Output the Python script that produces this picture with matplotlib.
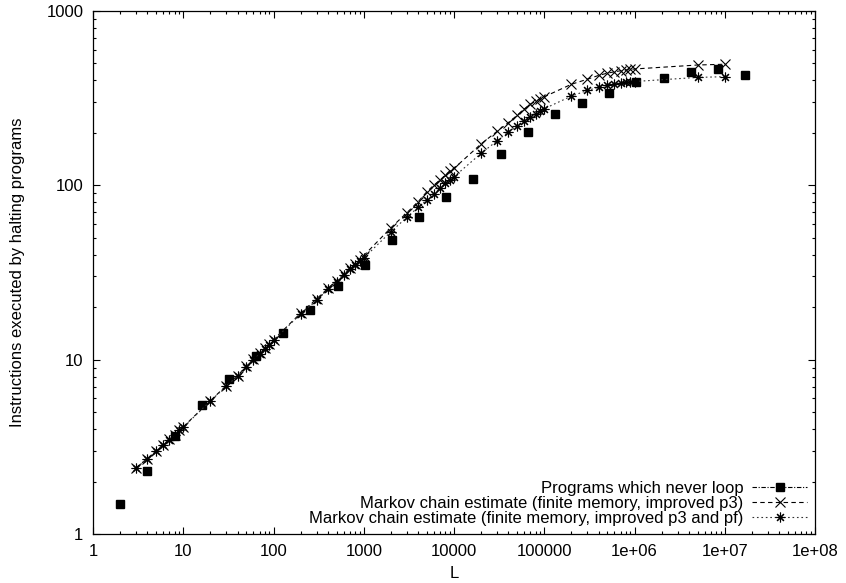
import matplotlib
matplotlib.use("Agg")
import matplotlib.pyplot as plt
from matplotlib.lines import Line2D
from matplotlib.ticker import FixedLocator, LogLocator, NullFormatter

plt.rcParams["font.family"] = ["Liberation Sans", "DejaVu Sans"]

# ---------- data ----------
# programs which never loop: sampled at powers of two
L_loop = [2, 4, 8, 16, 32, 64, 128, 256, 512, 1024, 2048, 4096, 8192, 16384,
          32768, 65536, 131072, 262144, 524288, 1048576, 2097152, 4194304,
          8388608, 16777216]
y_loop = [1.48, 2.31, 3.64, 5.49, 7.71, 10.5, 14.3, 19.3, 26.4, 34.9, 48.8,
          66, 86, 109, 151, 203, 256, 298, 340, 393, 414, 449, 467, 430]

# markov chain estimates: 3..10, 20..100, ..., 2e5..1e6, 5e6, 1e7
L_markov = [3, 4, 5, 6, 7, 8, 9, 10,
            20, 30, 40, 50, 60, 70, 80, 90, 100,
            200, 300, 400, 500, 600, 700, 800, 900, 1000,
            2000, 3000, 4000, 5000, 6000, 7000, 8000, 9000, 10000,
            20000, 30000, 40000, 50000, 60000, 70000, 80000, 90000, 100000,
            200000, 300000, 400000, 500000, 600000, 700000, 800000, 900000, 1000000,
            5000000, 10000000]
y_p3 = [2.40, 2.71, 3.00, 3.26, 3.49, 3.70, 3.95, 4.12,
        5.82, 7.10, 8.10, 9.15, 10.05, 10.85, 11.6, 12.3, 13.0,
        18.5, 22.3, 25.6, 28.4, 31.0, 33.5, 35.5, 37.5, 39.5,
        57.1, 69.6, 80.5, 91.9, 100.4, 107.3, 114.5, 121, 125,
        173, 204, 229, 252, 274, 292, 303, 313, 322,
        380, 406, 427, 440, 448, 454, 458, 462, 465,
        490, 495]
y_p3pf = [2.39, 2.70, 2.99, 3.25, 3.48, 3.68, 3.93, 4.10,
          5.79, 7.06, 8.05, 9.1, 10.0, 10.8, 11.5, 12.2, 12.9,
          18.3, 22.0, 25.3, 28.0, 30.6, 33.0, 34.9, 36.9, 38.3,
          54.2, 65.5, 74.8, 82.4, 89.1, 96.1, 102.6, 107.3, 112,
          152.6, 180, 202.5, 218, 233, 245, 256, 266, 275,
          325, 350, 365, 376, 382, 386, 389, 392, 394,
          416, 420]

labels = ["Programs which never loop",
          "Markov chain estimate (finite memory, improved p3)",
          "Markov chain estimate (finite memory, improved p3 and pf)"]

x_ticks = [1, 10, 100, 1000, 10000, 100000, 1e6, 1e7, 1e8]
x_ticklabels = ["1", "10", "100", "1000", "10000", "100000", "1e+06", "1e+07", "1e+08"]
y_ticks = [1, 10, 100, 1000]
y_ticklabels = ["1", "10", "100", "1000"]

W, H = 846, 583
fig = plt.figure(figsize=(W / 100, H / 100), dpi=100)
left, right, top, bottom = 93, 815, 11, 534
ax = fig.add_axes([left / W, (H - bottom) / H, (right - left) / W, (bottom - top) / H])

asterisk = (8, 2, 0)
fs = 12

ax.plot(L_loop, y_loop, linestyle="none", marker="s", ms=5.8, color="black")
ax.plot(L_markov, y_p3, linestyle=(0, (4, 3)), lw=0.8, color="black",
        marker="x", ms=6.5, mew=0.8)
ax.plot(L_markov, y_p3pf, linestyle=(0, (1.5, 2.5)), lw=0.8, color="#333333",
        marker=asterisk, ms=7, mew=0.8, mec="black")

ax.set_xscale("log")
ax.set_yscale("log")
ax.set_xlim(1, 1e8)
ax.set_ylim(1, 1000)

ax.xaxis.set_major_locator(FixedLocator(x_ticks))
ax.set_xticklabels(x_ticklabels)
ax.yaxis.set_major_locator(FixedLocator(y_ticks))
ax.set_yticklabels(y_ticklabels)
for a in (ax.xaxis, ax.yaxis):
    a.set_minor_locator(LogLocator(base=10, subs=range(2, 10), numticks=20))
    a.set_minor_formatter(NullFormatter())

ax.tick_params(which="both", direction="in", top=True, right=True,
               labelsize=fs, width=0.8, pad=7)
ax.tick_params(which="major", length=5)
ax.tick_params(which="minor", length=2.5)
for s in ax.spines.values():
    s.set_linewidth(0.9)

ax.set_xlabel("L", fontsize=fs, labelpad=5)
ax.set_ylabel("Instructions executed by halting programs", fontsize=fs, labelpad=15)

handles = [
    Line2D([], [], linestyle=(0, (4, 1.5, 1, 1.5)), lw=0.8, color="black",
           marker="s", ms=5.8),
    Line2D([], [], linestyle=(0, (4, 3)), lw=0.8, color="black",
           marker="x", ms=6.5, mew=0.8),
    Line2D([], [], linestyle=(0, (1.5, 2.5)), lw=0.8, color="#333333",
           marker=asterisk, ms=7, mew=0.8, mec="black"),
]
ax.legend(handles, labels, loc="lower right", frameon=False, markerfirst=False,
          fontsize=fs, numpoints=1, handlelength=3.3, handletextpad=0.5,
          labelspacing=0.0, borderpad=0, borderaxespad=0,
          bbox_to_anchor=(807 / W, (H - 526) / H), bbox_transform=fig.transFigure)

fig.savefig("out.png", dpi=100)
